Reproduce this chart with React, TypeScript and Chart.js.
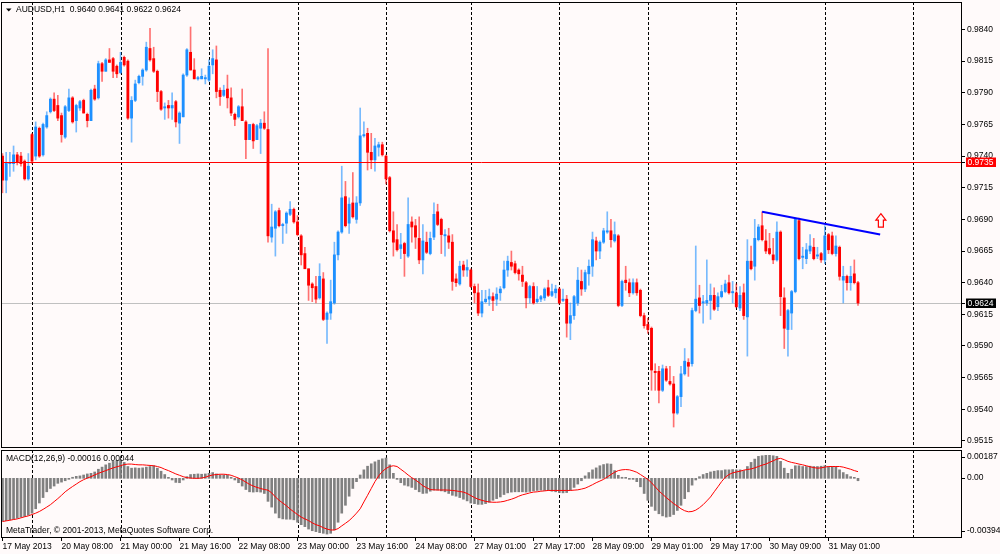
import React, { useEffect, useRef } from "react";
import Chart from "chart.js/auto";

// AUDUSD H1, 17 May 2013 15:00 .. 31 May 2013 09:00 (233 bars)
const opens = [
  0.9740, 0.9721, 0.9734, 0.9734, 0.9741, 0.9740, 0.9736, 0.9722, 0.9757, 0.9740,
  0.9762, 0.9741, 0.9763, 0.9775, 0.9785, 0.9780, 0.9772, 0.9755, 0.9776, 0.9786,
  0.9768, 0.9778, 0.9784, 0.9773, 0.9768, 0.9793, 0.9786, 0.9813, 0.9807, 0.9816,
  0.9817, 0.9811, 0.9806, 0.9818, 0.9815, 0.9770, 0.9784, 0.9798, 0.9803, 0.9808,
  0.9825, 0.9817, 0.9807, 0.9791, 0.9778, 0.9780, 0.9778, 0.9783, 0.9766, 0.9771,
  0.9804, 0.9822, 0.9808, 0.9801, 0.9801, 0.9801, 0.9800, 0.9812, 0.9816, 0.9792,
  0.9788, 0.9793, 0.9786, 0.9773, 0.9771, 0.9779, 0.9767, 0.9753, 0.9765, 0.9753,
  0.9762, 0.9766, 0.9761, 0.9676, 0.9683, 0.9697, 0.9685, 0.9687, 0.9694, 0.9698,
  0.9688, 0.9677, 0.9663, 0.9651, 0.9639, 0.9637, 0.9628, 0.9643, 0.9611, 0.9616,
  0.9624, 0.9662, 0.9680, 0.9708, 0.9687, 0.9703, 0.9690, 0.9703, 0.9756, 0.9758,
  0.9743, 0.9737, 0.9747, 0.9749, 0.9740, 0.9723, 0.9681, 0.9674, 0.9667, 0.9671,
  0.9661, 0.9688, 0.9685, 0.9675, 0.9658, 0.9672, 0.9663, 0.9676, 0.9696, 0.9690,
  0.9677, 0.9677, 0.9672, 0.9643, 0.9639, 0.9654, 0.9650, 0.9650, 0.9637, 0.9632,
  0.9616, 0.9625, 0.9627, 0.9629, 0.9627, 0.9632, 0.9636, 0.9650, 0.9656, 0.9655,
  0.9650, 0.9646, 0.9640, 0.9628, 0.9637, 0.9625, 0.9627, 0.9628, 0.9636, 0.9630,
  0.9632, 0.9635, 0.9626, 0.9627, 0.9608, 0.9614, 0.9624, 0.9641, 0.9635, 0.9647,
  0.9653, 0.9673, 0.9665, 0.9672, 0.9680, 0.9681, 0.9673, 0.9677, 0.9622, 0.9642,
  0.9640, 0.9632, 0.9640, 0.9634, 0.9614, 0.9607, 0.9604, 0.9570, 0.9570, 0.9555,
  0.9572, 0.9562, 0.9560, 0.9537, 0.9550, 0.9568, 0.9577, 0.9576, 0.9618, 0.9628,
  0.9624, 0.9624, 0.9626, 0.9630, 0.9621, 0.9629, 0.9633, 0.9640, 0.9632, 0.9632,
  0.9620, 0.9632, 0.9613, 0.9657, 0.9653, 0.9674, 0.9685, 0.9673, 0.9667, 0.9662,
  0.9658, 0.9680, 0.9628, 0.9603, 0.9616, 0.9633, 0.9689, 0.9660, 0.9659, 0.9665,
  0.9668, 0.9661, 0.9663, 0.9658, 0.9678, 0.9677, 0.9663, 0.9668, 0.9642, 0.9645,
  0.9640, 0.9647, 0.9640,
];
const highs = [
  0.9742, 0.9743, 0.9743, 0.9748, 0.9743, 0.9743, 0.9737, 0.9742, 0.9758, 0.9767,
  0.9763, 0.9766, 0.9775, 0.9786, 0.9790, 0.9788, 0.9774, 0.9780, 0.9793, 0.9787,
  0.9781, 0.9784, 0.9785, 0.9774, 0.9793, 0.9796, 0.9815, 0.9814, 0.9817, 0.9825,
  0.9818, 0.9812, 0.9822, 0.9819, 0.9816, 0.9787, 0.9800, 0.9804, 0.9809, 0.9830,
  0.9841, 0.9826, 0.9808, 0.9792, 0.9782, 0.9784, 0.9790, 0.9784, 0.9775, 0.9805,
  0.9825, 0.9842, 0.9817, 0.9803, 0.9809, 0.9804, 0.9816, 0.9824, 0.9827, 0.9794,
  0.9796, 0.9804, 0.9794, 0.9774, 0.9780, 0.9793, 0.9768, 0.9765, 0.9766, 0.9765,
  0.9769, 0.9775, 0.9825, 0.9702, 0.9697, 0.9699, 0.9687, 0.9696, 0.9704, 0.9699,
  0.9693, 0.9678, 0.9668, 0.9651, 0.9640, 0.9645, 0.9655, 0.9648, 0.9617, 0.9642,
  0.9672, 0.9681, 0.9732, 0.9720, 0.9707, 0.9727, 0.9708, 0.9778, 0.9767, 0.9762,
  0.9758, 0.9754, 0.9751, 0.9751, 0.9741, 0.9724, 0.9696, 0.9686, 0.9679, 0.9672,
  0.9707, 0.9692, 0.9690, 0.9692, 0.9686, 0.9680, 0.9680, 0.9703, 0.9702, 0.9691,
  0.9682, 0.9683, 0.9678, 0.9647, 0.9657, 0.9657, 0.9658, 0.9651, 0.9639, 0.9639,
  0.9634, 0.9634, 0.9635, 0.9632, 0.9636, 0.9637, 0.9657, 0.9661, 0.9665, 0.9657,
  0.9651, 0.9653, 0.9641, 0.9638, 0.9640, 0.9637, 0.9630, 0.9636, 0.9642, 0.9639,
  0.9638, 0.9636, 0.9635, 0.9630, 0.9624, 0.9630, 0.9652, 0.9650, 0.9650, 0.9658,
  0.9680, 0.9676, 0.9673, 0.9683, 0.9696, 0.9690, 0.9688, 0.9678, 0.9642, 0.9653,
  0.9643, 0.9643, 0.9643, 0.9635, 0.9616, 0.9612, 0.9605, 0.9576, 0.9574, 0.9575,
  0.9574, 0.9574, 0.9566, 0.9551, 0.9574, 0.9588, 0.9580, 0.9620, 0.9669, 0.9638,
  0.9630, 0.9658, 0.9639, 0.9636, 0.9632, 0.9638, 0.9642, 0.9646, 0.9641, 0.9639,
  0.9637, 0.9639, 0.9674, 0.9669, 0.9690, 0.9686, 0.9696, 0.9682, 0.9679, 0.9675,
  0.9688, 0.9681, 0.9636, 0.9619, 0.9634, 0.9691, 0.9691, 0.9668, 0.9671, 0.9678,
  0.9675, 0.9668, 0.9664, 0.9685, 0.9679, 0.9680, 0.9677, 0.9669, 0.9653, 0.9646,
  0.9653, 0.9658, 0.9641,
];
const lows = [
  0.9711, 0.9711, 0.9724, 0.9728, 0.9733, 0.9732, 0.9721, 0.9721, 0.9734, 0.9737,
  0.9739, 0.9740, 0.9762, 0.9774, 0.9775, 0.9768, 0.9751, 0.9754, 0.9775, 0.9766,
  0.9759, 0.9776, 0.9774, 0.9763, 0.9768, 0.9784, 0.9785, 0.9799, 0.9807, 0.9814,
  0.9802, 0.9802, 0.9805, 0.9811, 0.9769, 0.9751, 0.9783, 0.9797, 0.9796, 0.9807,
  0.9815, 0.9806, 0.9783, 0.9776, 0.9769, 0.9770, 0.9769, 0.9763, 0.9750, 0.9771,
  0.9803, 0.9808, 0.9801, 0.9800, 0.9801, 0.9797, 0.9799, 0.9805, 0.9786, 0.9780,
  0.9787, 0.9778, 0.9772, 0.9764, 0.9770, 0.9768, 0.9738, 0.9753, 0.9746, 0.9753,
  0.9742, 0.9761, 0.9672, 0.9672, 0.9661, 0.9684, 0.9671, 0.9679, 0.9693, 0.9687,
  0.9677, 0.9654, 0.9651, 0.9626, 0.9625, 0.9624, 0.9627, 0.9610, 0.9592, 0.9611,
  0.9623, 0.9658, 0.9679, 0.9684, 0.9679, 0.9691, 0.9687, 0.9701, 0.9755, 0.9729,
  0.9730, 0.9728, 0.9740, 0.9740, 0.9718, 0.9680, 0.9661, 0.9665, 0.9659, 0.9645,
  0.9660, 0.9672, 0.9667, 0.9655, 0.9647, 0.9663, 0.9662, 0.9674, 0.9685, 0.9663,
  0.9661, 0.9667, 0.9634, 0.9637, 0.9638, 0.9645, 0.9645, 0.9636, 0.9624, 0.9614,
  0.9613, 0.9624, 0.9622, 0.9618, 0.9622, 0.9626, 0.9635, 0.9645, 0.9650, 0.9647,
  0.9642, 0.9637, 0.9620, 0.9624, 0.9623, 0.9624, 0.9625, 0.9626, 0.9629, 0.9629,
  0.9628, 0.9623, 0.9625, 0.9597, 0.9595, 0.9611, 0.9622, 0.9630, 0.9633, 0.9638,
  0.9645, 0.9658, 0.9659, 0.9671, 0.9679, 0.9668, 0.9672, 0.9621, 0.9621, 0.9634,
  0.9629, 0.9631, 0.9630, 0.9613, 0.9604, 0.9600, 0.9555, 0.9555, 0.9545, 0.9554,
  0.9562, 0.9559, 0.9526, 0.9536, 0.9542, 0.9567, 0.9566, 0.9574, 0.9617, 0.9616,
  0.9608, 0.9622, 0.9611, 0.9618, 0.9618, 0.9628, 0.9632, 0.9631, 0.9624, 0.9620,
  0.9618, 0.9611, 0.9582, 0.9650, 0.9642, 0.9673, 0.9673, 0.9663, 0.9662, 0.9655,
  0.9657, 0.9614, 0.9588, 0.9582, 0.9603, 0.9632, 0.9658, 0.9651, 0.9655, 0.9663,
  0.9658, 0.9659, 0.9656, 0.9655, 0.9663, 0.9662, 0.9661, 0.9642, 0.9624, 0.9634,
  0.9634, 0.9639, 0.9622,
];
const closes = [
  0.9721, 0.9735, 0.9735, 0.9741, 0.9735, 0.9734, 0.9722, 0.9732, 0.9736, 0.9763,
  0.9740, 0.9765, 0.9772, 0.9785, 0.9776, 0.9770, 0.9757, 0.9779, 0.9786, 0.9767,
  0.9780, 0.9783, 0.9774, 0.9768, 0.9792, 0.9785, 0.9813, 0.9807, 0.9816, 0.9814,
  0.9807, 0.9805, 0.9814, 0.9812, 0.9770, 0.9784, 0.9797, 0.9803, 0.9808, 0.9826,
  0.9816, 0.9807, 0.9791, 0.9777, 0.9779, 0.9778, 0.9780, 0.9767, 0.9774, 0.9804,
  0.9824, 0.9808, 0.9801, 0.9802, 0.9803, 0.9802, 0.9811, 0.9817, 0.9791, 0.9787,
  0.9792, 0.9786, 0.9774, 0.9769, 0.9779, 0.9768, 0.9753, 0.9765, 0.9752, 0.9764,
  0.9766, 0.9762, 0.9677, 0.9684, 0.9696, 0.9685, 0.9686, 0.9695, 0.9698, 0.9688,
  0.9678, 0.9662, 0.9651, 0.9638, 0.9636, 0.9627, 0.9645, 0.9611, 0.9616, 0.9625,
  0.9662, 0.9680, 0.9707, 0.9685, 0.9702, 0.9692, 0.9703, 0.9756, 0.9757, 0.9743,
  0.9737, 0.9748, 0.9749, 0.9741, 0.9722, 0.9681, 0.9672, 0.9666, 0.9670, 0.9663,
  0.9686, 0.9684, 0.9676, 0.9658, 0.9673, 0.9664, 0.9675, 0.9694, 0.9686, 0.9678,
  0.9678, 0.9672, 0.9641, 0.9640, 0.9653, 0.9650, 0.9652, 0.9637, 0.9632, 0.9616,
  0.9625, 0.9627, 0.9629, 0.9626, 0.9631, 0.9635, 0.9650, 0.9657, 0.9653, 0.9648,
  0.9647, 0.9641, 0.9628, 0.9637, 0.9624, 0.9627, 0.9629, 0.9635, 0.9630, 0.9633,
  0.9635, 0.9624, 0.9627, 0.9608, 0.9614, 0.9629, 0.9642, 0.9635, 0.9648, 0.9653,
  0.9674, 0.9665, 0.9672, 0.9681, 0.9681, 0.9674, 0.9678, 0.9622, 0.9641, 0.9640,
  0.9632, 0.9640, 0.9632, 0.9614, 0.9606, 0.9603, 0.9571, 0.9569, 0.9555, 0.9572,
  0.9563, 0.9560, 0.9537, 0.9550, 0.9568, 0.9578, 0.9574, 0.9618, 0.9627, 0.9622,
  0.9625, 0.9626, 0.9630, 0.9619, 0.9629, 0.9633, 0.9639, 0.9632, 0.9633, 0.9621,
  0.9630, 0.9614, 0.9657, 0.9651, 0.9675, 0.9684, 0.9674, 0.9665, 0.9663, 0.9658,
  0.9680, 0.9629, 0.9604, 0.9618, 0.9633, 0.9690, 0.9659, 0.9661, 0.9666, 0.9669,
  0.9659, 0.9662, 0.9658, 0.9677, 0.9666, 0.9663, 0.9669, 0.9645, 0.9645, 0.9640,
  0.9645, 0.9640, 0.9624,
];

// MACD(12,26,9): histogram (main line) and signal line, per bar
const macdHist = [
  -0.00283, -0.00279, -0.00274, -0.0027, -0.00263, -0.00256, -0.00252, -0.00243, -0.0023, -0.00201,
  -0.00163, -0.00127, -0.00089, -0.00067, -0.00051, -0.00033, -0.00025, -0.00016, -0.00004, 0.00007,
  0.00013, 0.00016, 0.00022, 0.00029, 0.00033, 0.00042, 0.0006, 0.00074, 0.00089, 0.001,
  0.00112, 0.00118, 0.00123, 0.00105, 0.00078, 0.00067, 0.00069, 0.00067, 0.00069, 0.00074,
  0.00078, 0.00083, 0.00067, 0.00047, 0.00025, 0.00002, -0.00011, -0.00027, -0.00029, -0.00011,
  0.00011, 0.00025, 0.00027, 0.00029, 0.00027, 0.00029, 0.00033, 0.00038, 0.00029, 0.00022,
  0.00022, 0.0002, 0.00007, -0.00011, -0.00029, -0.00051, -0.00074, -0.00089, -0.00091, -0.00089,
  -0.00091, -0.001, -0.00152, -0.0019, -0.0023, -0.00261, -0.00268, -0.0027, -0.0027, -0.00274,
  -0.0029, -0.00306, -0.00319, -0.00335, -0.00346, -0.00352, -0.00359, -0.00363, -0.00368, -0.00363,
  -0.00341, -0.0029, -0.0023, -0.00178, -0.00118, -0.00067, -0.00022, 0.00022, 0.00056, 0.0008,
  0.00096, 0.00109, 0.0012, 0.00129, 0.00134, 0.00089, 0.00033, -0.00007, -0.00029, -0.00045,
  -0.00051, -0.0006, -0.00074, -0.00089, -0.001, -0.00098, -0.00085, -0.00078, -0.00078, -0.00083,
  -0.00089, -0.001, -0.00112, -0.00118, -0.00127, -0.00138, -0.00149, -0.00163, -0.00167, -0.00172,
  -0.00172, -0.00167, -0.00158, -0.00145, -0.00134, -0.00123, -0.00107, -0.00096, -0.00091, -0.00089,
  -0.00089, -0.00089, -0.00091, -0.00087, -0.00083, -0.0008, -0.00078, -0.0008, -0.0008, -0.00085,
  -0.00089, -0.00094, -0.00096, -0.00094, -0.00078, -0.0006, -0.00038, -0.00016, 0.00016, 0.00038,
  0.00056, 0.00069, 0.00083, 0.00091, 0.00096, 0.00094, 0.00051, 0.0002, 0.00007, 0.00002,
  -0.00002, -0.00007, -0.00022, -0.00056, -0.001, -0.00145, -0.00185, -0.00212, -0.00234, -0.00248,
  -0.00256, -0.00252, -0.00239, -0.00212, -0.00178, -0.00134, -0.00089, -0.00045, -0.00011, 0.00011,
  0.00025, 0.00033, 0.00042, 0.00047, 0.00051, 0.00051, 0.00056, 0.00056, 0.00058, 0.00056,
  0.00056, 0.00051, 0.00078, 0.00105, 0.00127, 0.00145, 0.00149, 0.00152, 0.00152, 0.00149,
  0.00145, 0.00112, 0.00067, 0.00033, 0.0006, 0.00083, 0.00083, 0.00078, 0.00078, 0.0008,
  0.00078, 0.00078, 0.0008, 0.00083, 0.00078, 0.00078, 0.00074, 0.00056, 0.00038, 0.00025,
  0.00011, 0.00002, -0.00016,
];
const macdSignal = [
  -0.00285, -0.00281, -0.00277, -0.00272, -0.00268, -0.00261, -0.00254, -0.00248, -0.00239, -0.0023,
  -0.00219, -0.00205, -0.0019, -0.00174, -0.00154, -0.00134, -0.00112, -0.00089, -0.00071, -0.00054,
  -0.00038, -0.00022, -0.00009, 0.00002, 0.00011, 0.00022, 0.00033, 0.00042, 0.00051, 0.0006,
  0.00069, 0.00076, 0.00083, 0.00091, 0.00094, 0.00094, 0.00091, 0.00089, 0.00089, 0.00087,
  0.00085, 0.00083, 0.00078, 0.00071, 0.0006, 0.00051, 0.0004, 0.00029, 0.0002, 0.00011,
  0.00004, 0.00002, 0.0, 0.0, 0.00002, 0.00007, 0.00016, 0.00022, 0.00025, 0.00027,
  0.00027, 0.00025, 0.0002, 0.00011, 0.00002, -0.00011, -0.00025, -0.0004, -0.00051, -0.0006,
  -0.00067, -0.00074, -0.00078, -0.00096, -0.00123, -0.00145, -0.00163, -0.00181, -0.00203, -0.00221,
  -0.00239, -0.00256, -0.00268, -0.00279, -0.00294, -0.00306, -0.00314, -0.00326, -0.00335, -0.00341,
  -0.00341, -0.00332, -0.00314, -0.00297, -0.00279, -0.00256, -0.0023, -0.00201, -0.00156, -0.00112,
  -0.00067, -0.00022, 0.00016, 0.00045, 0.00065, 0.00078, 0.00083, 0.00078, 0.0006, 0.00042,
  0.00022, 0.00004, -0.00011, -0.00029, -0.00049, -0.00062, -0.00074, -0.00076, -0.00077, -0.00077,
  -0.00077, -0.00078, -0.0008, -0.00083, -0.00087, -0.00091, -0.001, -0.00114, -0.00127, -0.00138,
  -0.00145, -0.00152, -0.00156, -0.00158, -0.00158, -0.00156, -0.00152, -0.00145, -0.00138, -0.00129,
  -0.00118, -0.00109, -0.00103, -0.00096, -0.00091, -0.00089, -0.00085, -0.00083, -0.0008, -0.0008,
  -0.0008, -0.0008, -0.0008, -0.0008, -0.0008, -0.00078, -0.00076, -0.00071, -0.00065, -0.00054,
  -0.00042, -0.00029, -0.00018, -0.00007, 0.00009, 0.00025, 0.0004, 0.00051, 0.00056, 0.00058,
  0.00056, 0.00049, 0.0004, 0.00025, 0.00009, -0.00007, -0.00029, -0.00056, -0.00083, -0.00105,
  -0.00127, -0.00147, -0.00167, -0.00183, -0.00201, -0.00214, -0.00221, -0.00219, -0.0021, -0.00194,
  -0.00174, -0.00149, -0.00123, -0.00089, -0.00056, -0.00022, 0.00007, 0.00025, 0.00036, 0.00042,
  0.00047, 0.00054, 0.00058, 0.00062, 0.00069, 0.00078, 0.00087, 0.00094, 0.00105, 0.00116,
  0.00127, 0.00132, 0.00123, 0.00112, 0.00105, 0.001, 0.00094, 0.00089, 0.00083, 0.00076,
  0.00071, 0.00067, 0.00069, 0.00074, 0.00078, 0.00078, 0.00078, 0.00078, 0.00074, 0.00067,
  0.0006, 0.00051, 0.00044,
];

// time axis: bar index of each label and its text
const timeTickBars = [0, 16, 32, 48, 64, 80, 96, 112, 128, 144, 160, 176, 192, 208, 224];
const timeTickLabels = [
  "17 May 2013", "20 May 08:00", "21 May 00:00", "21 May 16:00", "22 May 08:00",
  "23 May 00:00", "23 May 16:00", "24 May 08:00", "27 May 01:00", "27 May 17:00",
  "28 May 09:00", "29 May 01:00", "29 May 17:00", "30 May 09:00", "31 May 01:00",
];
// bars where a new trading day starts (period separators)
const dayStartBars = [8, 32, 56, 80, 104, 127, 151, 175, 199, 223, 247];

const priceTicks = [
  0.984, 0.9815, 0.979, 0.9765, 0.974, 0.9715, 0.969, 0.9665, 0.964, 0.9615, 0.959, 0.9565, 0.954, 0.9515,
];
const PRICE_MIN = 0.950943;
const PRICE_MAX = 0.986172;
const MACD_MIN = -0.00394;
const MACD_MAX = 0.00187;

const levelPrice = 0.9735; // red horizontal line
const bidPrice = 0.9624; // current bid line
const trendFrom = { bar: 206, price: 0.9696 };
const trendTo = { bar: 238, price: 0.9678 };
const arrowTip = { bar: 238.2, price: 0.96945 };

const BG = "#FFFAFA";
const BULL = "#1E90FF";
const BEAR = "#FF0000";
const BULL_WICK = "rgba(30,144,255,0.6)";
const BEAR_WICK = "rgba(255,0,0,0.55)";
const FONT = "'Liberation Sans', Arial, sans-serif";
const FONT_PX = 8.5;
const X_MIN = -0.407;
const X_MAX = 260.2;
const AXIS_W = 38;

const last = closes.length - 1;

const drawSeparators = (chart: any) => {
  const { ctx, chartArea: a, scales } = chart;
  ctx.save();
  ctx.strokeStyle = "#000";
  ctx.lineWidth = 1;
  ctx.setLineDash([3, 2]);
  dayStartBars.forEach((b) => {
    const px = Math.round(scales.x.getPixelForValue(b)) + 0.5;
    if (px > a.right) return;
    ctx.beginPath();
    ctx.moveTo(px, a.top);
    ctx.lineTo(px, a.bottom);
    ctx.stroke();
  });
  ctx.restore();
};

const drawFrame = (chart: any) => {
  const { ctx, chartArea: a } = chart;
  ctx.save();
  ctx.strokeStyle = "#000";
  ctx.lineWidth = 1;
  ctx.strokeRect(a.left + 0.5, a.top + 0.5, a.right - a.left - 1, a.bottom - a.top - 1);
  ctx.restore();
};

const hLine = (chart: any, price: number, color: string) => {
  const { ctx, chartArea: a, scales } = chart;
  const py = Math.round(scales.y.getPixelForValue(price)) + 0.5;
  ctx.save();
  ctx.strokeStyle = color;
  ctx.lineWidth = 1;
  ctx.beginPath();
  ctx.moveTo(a.left, py);
  ctx.lineTo(a.right, py);
  ctx.stroke();
  ctx.restore();
};

const priceBox = (chart: any, price: number, bg: string) => {
  const { ctx, chartArea: a, scales } = chart;
  const cy = Math.round(scales.y.getPixelForValue(price));
  ctx.save();
  ctx.fillStyle = bg;
  ctx.fillRect(a.right + 4, cy - 4.5, 30, 9.5);
  ctx.strokeStyle = "#000";
  ctx.beginPath();
  ctx.moveTo(a.right, cy + 0.5);
  ctx.lineTo(a.right + 3, cy + 0.5);
  ctx.stroke();
  ctx.fillStyle = "#FFFFFF";
  ctx.font = `${FONT_PX}px ${FONT}`;
  ctx.textAlign = "left";
  ctx.textBaseline = "middle";
  ctx.fillText(price.toFixed(4), a.right + 5.5, cy + 0.5);
  ctx.restore();
};

const mainDecor = {
  id: "mainDecor",
  beforeDatasetsDraw(chart: any) {
    hLine(chart, bidPrice, "#C0C0C0");
    drawSeparators(chart);
  },
  afterDatasetsDraw(chart: any) {
    const { ctx, scales } = chart;
    hLine(chart, levelPrice, "#FF0000");
    // trendline
    ctx.save();
    ctx.strokeStyle = "#0000FF";
    ctx.lineWidth = 2;
    ctx.beginPath();
    ctx.moveTo(scales.x.getPixelForValue(trendFrom.bar), scales.y.getPixelForValue(trendFrom.price));
    ctx.lineTo(scales.x.getPixelForValue(trendTo.bar), scales.y.getPixelForValue(trendTo.price));
    ctx.stroke();
    // up arrow
    const px = scales.x.getPixelForValue(arrowTip.bar);
    const py = scales.y.getPixelForValue(arrowTip.price);
    ctx.strokeStyle = "#FF0000";
    ctx.lineWidth = 1.2;
    ctx.beginPath();
    ctx.moveTo(px, py);
    ctx.lineTo(px + 5, py + 6.5);
    ctx.lineTo(px + 2.5, py + 6.5);
    ctx.lineTo(px + 2.5, py + 13.5);
    ctx.lineTo(px - 2.5, py + 13.5);
    ctx.lineTo(px - 2.5, py + 6.5);
    ctx.lineTo(px - 5, py + 6.5);
    ctx.closePath();
    ctx.stroke();
    ctx.restore();
  },
  afterDraw(chart: any) {
    const { ctx } = chart;
    drawFrame(chart);
    priceBox(chart, levelPrice, "#FF0000");
    priceBox(chart, closes[last], "#000000");
    ctx.save();
    ctx.fillStyle = "#000";
    ctx.beginPath();
    ctx.moveTo(6, 8.5);
    ctx.lineTo(11.5, 8.5);
    ctx.lineTo(8.75, 11.5);
    ctx.closePath();
    ctx.fill();
    ctx.font = `${FONT_PX}px ${FONT}`;
    ctx.textAlign = "left";
    ctx.textBaseline = "middle";
    const ohlc = [opens[last], highs[last], lows[last], closes[last]].map((v) => v.toFixed(4)).join(" ");
    ctx.fillText(`AUDUSD,H1  ${ohlc}`, 16, 10);
    ctx.restore();
  },
};

const macdDecor = {
  id: "macdDecor",
  beforeDatasetsDraw(chart: any) {
    drawSeparators(chart);
  },
  afterDraw(chart: any) {
    const { ctx, chartArea: a, scales } = chart;
    drawFrame(chart);
    ctx.save();
    ctx.font = `${FONT_PX}px ${FONT}`;
    ctx.fillStyle = "#000";
    ctx.strokeStyle = "#000";
    ctx.lineWidth = 1;
    ctx.textAlign = "left";
    ctx.textBaseline = "middle";
    const zero = scales.y.getPixelForValue(0);
    const rows: [string, number][] = [
      [MACD_MAX.toFixed(5), a.top + 6.5],
      ["0.00", zero - 0.5],
      [MACD_MIN.toFixed(5), a.bottom - 7],
    ];
    rows.forEach(([t, yy]) => {
      const ty = Math.round(yy) + 0.5;
      ctx.beginPath();
      ctx.moveTo(a.right, ty);
      ctx.lineTo(a.right + 3, ty);
      ctx.stroke();
      ctx.fillText(t, a.right + 5, yy);
    });
    ctx.fillText(
      `MACD(12,26,9) ${macdHist[last].toFixed(5)} ${macdSignal[last].toFixed(5)}`,
      6,
      a.top + 8.5
    );
    ctx.fillText("MetaTrader, \u00A9 2001-2013, MetaQuotes Software Corp.", 6, a.bottom - 7.5);
    ctx.restore();
  },
};

export default function App() {
  const mainRef = useRef<HTMLCanvasElement | null>(null);
  const macdRef = useRef<HTMLCanvasElement | null>(null);

  useEffect(() => {
    if (!mainRef.current || !macdRef.current) return;
    const bars = closes.map((_, i) => i);
    const up = bars.map((i) => closes[i] >= opens[i]);
    const font = { family: FONT, size: FONT_PX };

    const main = new Chart(mainRef.current, {
      type: "bar",
      data: {
        datasets: [
          {
            label: "body",
            data: bars.map((i) => ({ x: i, y: [opens[i], closes[i]] })),
            backgroundColor: bars.map((i) => (up[i] ? BULL : BEAR)),
            barThickness: 2.2,
            minBarLength: 1,
            stack: "candle",
            order: 0,
          },
          {
            label: "wick",
            data: bars.map((i) => ({ x: i, y: [lows[i], highs[i]] })),
            backgroundColor: bars.map((i) => (up[i] ? BULL_WICK : BEAR_WICK)),
            barThickness: 1,
            stack: "candle",
            order: 1,
          },
        ],
      } as any,
      options: {
        animation: false,
        responsive: false,
        events: [],
        layout: { padding: { left: 1, top: 2, right: 0, bottom: 2 } },
        plugins: { legend: { display: false }, tooltip: { enabled: false } },
        scales: {
          x: { type: "linear", min: X_MIN, max: X_MAX, offset: false, display: false },
          y: {
            position: "right",
            min: PRICE_MIN,
            max: PRICE_MAX,
            stacked: false,
            afterBuildTicks: (s: any) => {
              s.ticks = priceTicks.map((v) => ({ value: v }));
            },
            afterFit: (s: any) => {
              s.width = AXIS_W;
              s.paddingTop = 0;
              s.paddingBottom = 0;
            },
            ticks: {
              autoSkip: false,
              padding: 2,
              color: "#000",
              font,
              callback: (v: any) => Number(v).toFixed(4),
            },
            grid: { drawOnChartArea: false, drawTicks: true, tickLength: 3, color: "#000" },
            border: { display: false },
          },
        },
      } as any,
      plugins: [mainDecor],
    });

    const macd = new Chart(macdRef.current, {
      type: "bar",
      data: {
        datasets: [
          {
            type: "line",
            label: "Signal",
            data: bars.map((i) => ({ x: i, y: macdSignal[i] })),
            borderColor: "#FF0000",
            borderWidth: 1,
            pointRadius: 0,
            fill: false,
            tension: 0,
            order: 0,
          },
          {
            type: "bar",
            label: "MACD",
            data: bars.map((i) => ({ x: i, y: macdHist[i] })),
            backgroundColor: "#808080",
            barThickness: 2,
            minBarLength: 1,
            order: 1,
          },
        ],
      } as any,
      options: {
        animation: false,
        responsive: false,
        events: [],
        layout: { padding: { left: 1, top: 1, right: 0, bottom: 0 } },
        plugins: { legend: { display: false }, tooltip: { enabled: false } },
        scales: {
          x: {
            type: "linear",
            min: X_MIN,
            max: X_MAX,
            offset: false,
            position: "bottom",
            afterBuildTicks: (s: any) => {
              s.ticks = timeTickBars.map((v) => ({ value: v }));
            },
            afterFit: (s: any) => {
              s.height = 16;
              s.paddingLeft = 0;
              s.paddingRight = 0;
            },
            ticks: {
              autoSkip: false,
              maxRotation: 0,
              minRotation: 0,
              align: "start",
              padding: 1,
              color: "#000",
              font,
              callback: (v: any) => timeTickLabels[timeTickBars.indexOf(Number(v))] ?? "",
            },
            grid: { offset: false, drawOnChartArea: false, drawTicks: true, tickLength: 3, color: "#000" },
            border: { display: false },
          },
          y: {
            position: "right",
            min: MACD_MIN,
            max: MACD_MAX,
            afterFit: (s: any) => {
              s.width = AXIS_W;
              s.paddingTop = 0;
              s.paddingBottom = 0;
            },
            ticks: { display: false },
            grid: { display: false },
            border: { display: false },
          },
        },
      } as any,
      plugins: [macdDecor],
    });

    return () => {
      main.destroy();
      macd.destroy();
    };
  }, []);

  return (
    <div style={{ position: "fixed", left: 0, top: 0, width: 1000, height: 554, background: BG, overflow: "hidden" }}>
      <canvas
        ref={mainRef}
        width={1000}
        height={450}
        style={{ position: "absolute", left: 0, top: 0, width: 1000, height: 450, display: "block" }}
      />
      <canvas
        ref={macdRef}
        width={1000}
        height={105}
        style={{ position: "absolute", left: 0, top: 449, width: 1000, height: 105, display: "block" }}
      />
    </div>
  );
}
